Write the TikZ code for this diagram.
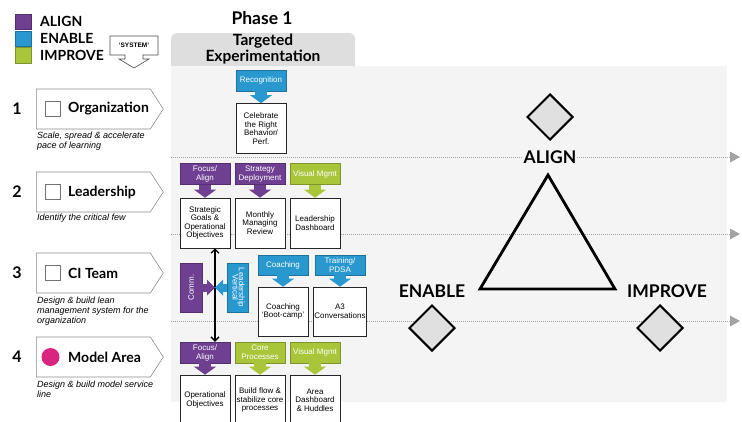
\documentclass[tikz,border=0pt]{standalone}
\usepackage{xcolor}
\usepackage{fontspec}
\setmainfont{Liberation Sans}
\newfontfamily\headfont{Lato}
\usepackage{tikz}
\usetikzlibrary{shapes.geometric, shapes.symbols, arrows.meta}

\definecolor{alignc}{HTML}{6F3F92}
\definecolor{enablec}{HTML}{2898CF}
\definecolor{improvec}{HTML}{A9C53A}
\definecolor{bgc}{HTML}{F4F4F4}
\definecolor{tabc}{HTML}{DEDEDE}
\definecolor{dotc}{HTML}{A3A3A3}
\definecolor{pinkc}{HTML}{D9257F}
\definecolor{pillarc}{HTML}{E0E0E0}

\tikzstyle{legendbox} = [rectangle, minimum size=15.5pt, inner sep=0pt, line width=0.5pt]
\tikzstyle{legendtext} = [anchor=west, inner sep=0pt, font=\headfont\bfseries\fontsize{14}{14}\selectfont]
\tikzstyle{phase} = [align=center, font=\headfont\bfseries\fontsize{17.5}{17.5}\selectfont]
\tikzstyle{tabtext} = [align=center, font=\headfont\bfseries\fontsize{15.5}{16}\selectfont]
\tikzstyle{levelnum} = [font=\headfont\bfseries\fontsize{16}{16}\selectfont]
\tikzstyle{levelbox} = [signal, signal to=east, signal pointer angle=114, minimum width=127pt, minimum height=40pt, inner sep=0pt, draw=black!45, fill=white, line width=0.6pt]
\tikzstyle{checkbox} = [rectangle, minimum size=15pt, inner sep=0pt, draw=black!55, fill=white, line width=0.6pt]
\tikzstyle{leveltext} = [anchor=west, inner sep=0pt, font=\headfont\bfseries\fontsize{14}{14}\selectfont]
\tikzstyle{desc} = [anchor=north west, align=left, inner sep=0pt, font=\itshape\fontsize{9}{9.8}\selectfont]
\tikzstyle{header} = [rectangle, minimum width=50pt, minimum height=21pt, inner sep=1pt, align=center, text=white, line width=0.5pt, font=\fontsize{8}{9}\selectfont]
\tikzstyle{alignhdr} = [header, fill=alignc, draw=alignc!75!black]
\tikzstyle{enablehdr} = [header, fill=enablec, draw=enablec!75!black]
\tikzstyle{improvehdr} = [header, fill=improvec, draw=improvec!75!black]
\tikzstyle{task} = [rectangle, minimum width=50pt, minimum height=50pt, inner sep=1pt, align=center, draw=black!85, fill=white, line width=0.6pt, font=\fontsize{8}{8.6}\selectfont]
\tikzstyle{sidebar} = [rectangle, minimum width=22pt, minimum height=49pt, inner sep=0pt, align=center, text=white, line width=0.5pt, font=\fontsize{8}{8}\selectfont]
\tikzstyle{fatarrow} = [line width=12pt, -{Triangle[line width=0pt, length=8pt, width=22pt]}]
\tikzstyle{sidearrow} = [line width=8pt, -{Triangle[line width=0pt, length=8pt, width=16pt]}]
\tikzstyle{dotline} = [dotc, line width=0.8pt, dash pattern=on 1pt off 1pt, -{Triangle[line width=0pt, length=10pt, width=11pt]}]
\tikzstyle{pillar} = [diamond, minimum size=46pt, inner sep=0pt, draw=black, fill=pillarc, line width=2pt]
\tikzstyle{pillartext} = [inner sep=1pt, font=\headfont\bfseries\fontsize{17.5}{17.5}\selectfont]

\begin{document}
\begin{tikzpicture}[x=1pt, y=-1pt]
	\useasboundingbox (0,0) rectangle (742,421);
	\clip (0,0) rectangle (742,421);

	% Background and phase tab
	\fill [tabc, rounded corners=6pt] (171,33) rectangle (355,74);
	\fill [bgc] (171,66) rectangle (727,402);
	\node (phase) [phase] at (262,18) {Phase 1};
	\node (tab) [tabtext] at (263,49.5) {Targeted\\Experimentation};

	% Dotted level lines
	\coordinate (l1s) at (171,157); \coordinate (l1e) at (740,157);
	\coordinate (l2s) at (171,234); \coordinate (l2e) at (740,234);
	\coordinate (l3s) at (171,321); \coordinate (l3e) at (740,321);
	\draw [dotline] (l1s) -- (l1e);
	\draw [dotline] (l2s) -- (l2e);
	\draw [dotline] (l3s) -- (l3e);

	% Legend
	\node (keya) [legendbox, fill=alignc, draw=alignc!75!black] at (23,21.5) {};
	\node (keye) [legendbox, fill=enablec, draw=enablec!75!black] at (23,38.5) {};
	\node (keyi) [legendbox, fill=improvec, draw=improvec!75!black] at (23,55.3) {};
	\node (keyatext) [legendtext] at (40,21.5) {ALIGN};
	\node (keyetext) [legendtext] at (40,38.5) {ENABLE};
	\node (keyitext) [legendtext] at (40,55.3) {IMPROVE};
	\filldraw [fill=white, draw=black!70, line width=0.6pt] (110,36) -- (158,36) -- (158,55) -- (143,55) -- (143,59) -- (149,59) -- (134,68) -- (119,59) -- (125,59) -- (125,55) -- (110,55) -- cycle;
	\node (system) [font=\bfseries\fontsize{6.5}{6.5}\selectfont, inner sep=0pt] at (134,45.5) {‘SYSTEM’};

	% Levels
	\node (num1) [levelnum] at (17,109) {1};
	\node (num2) [levelnum] at (17,192) {2};
	\node (num3) [levelnum] at (17,273) {3};
	\node (num4) [levelnum] at (17,357) {4};
	\node (lvl1) [levelbox, anchor=west] at (36,109) {};
	\node (lvl2) [levelbox, anchor=west] at (36,192) {};
	\node (lvl3) [levelbox, anchor=west] at (36,273) {};
	\node (lvl4) [levelbox, anchor=west] at (36,357) {};
	\node (chk1) [checkbox] at (52.5,109) {};
	\node (chk2) [checkbox] at (52.5,192) {};
	\node (chk3) [checkbox] at (52.5,273) {};
	\node (chk4) [circle, fill=pinkc, minimum size=18pt, inner sep=0pt] at (50.5,357) {};
	\node (org) [leveltext] at (68,109) {Organization};
	\node (lead) [leveltext] at (68,192) {Leadership};
	\node (ci) [leveltext] at (68,273) {CI Team};
	\node (model) [leveltext] at (68,357) {Model Area};
	\node (desc1) [desc] at (37,132) {Scale, spread \& accelerate\\pace of learning};
	\node (desc2) [desc] at (37,214) {Identify the critical few};
	\node (desc3) [desc] at (37,297) {Design \& build lean\\management system for the\\organization};
	\node (desc4) [desc] at (37,381) {Design \& build model service\\line};

	% Row 1
	\node (rec) [enablehdr] at (261,80.5) {Recognition};
	\node (cel) [task] at (261,128.5) {Celebrate\\the Right\\Behavior/\\Perf.};

	% Row 2
	\node (fa2) [alignhdr] at (205,174) {Focus/\\Align};
	\node (sd2) [alignhdr] at (260,174) {Strategy\\Deployment};
	\node (vm2) [improvehdr] at (315,174) {Visual Mgmt};
	\node (sg) [task] at (205,223) {Strategic\\Goals \&\\Operational\\Objectives};
	\node (mmr) [task] at (260,223) {Monthly\\Managing\\Review};
	\node (ld) [task] at (315,223) {Leadership\\Dashboard};

	% Row 3
	\node (comm) [sidebar, fill=alignc, draw=alignc!75!black] at (191,287.5) {\rotatebox{90}{Comm.}};
	\node (lv) [sidebar, minimum width=21pt, fill=enablec, draw=enablec!75!black] at (237.5,287.5) {\rotatebox{-90}{\begin{tabular}{@{}c@{}}Leadership\\[-2pt]Vertical\end{tabular}}};
	\coordinate (hub) at (215,287.5);
	\node (ch3) [enablehdr, minimum height=20pt] at (283,265) {Coaching};
	\node (tr3) [enablehdr, minimum height=20pt] at (340,265) {Training/\\PDSA};
	\node (bc) [task, minimum height=49pt] at (283,311.5) {Coaching\\‘Boot-camp’};
	\node (a3) [task, minimum height=49pt] at (340,311.5) {A3\\Conversations};

	% Row 4
	\node (fa4) [alignhdr] at (205,352.5) {Focus/\\Align};
	\node (cp4) [improvehdr] at (260,352.5) {Core\\Processes};
	\node (vm4) [improvehdr] at (315,352.5) {Visual Mgmt};
	\node (oo) [task] at (205,400) {Operational\\Objectives};
	\node (bf) [task] at (260,400) {Build flow \&\\stabilize core\\processes};
	\node (ad) [task] at (315,400) {Area\\Dashboard\\\& Huddles};

	% Draw the arrows
	\draw [fatarrow, enablec] (rec) -- (cel);
	\draw [fatarrow, alignc] (fa2) -- (sg);
	\draw [fatarrow, alignc] (sd2) -- (mmr);
	\draw [fatarrow, improvec] (vm2) -- (ld);
	\draw [fatarrow, enablec] (ch3) -- (bc);
	\draw [fatarrow, enablec] (tr3) -- (a3);
	\draw [fatarrow, alignc] (fa4) -- (oo);
	\draw [fatarrow, improvec] (cp4) -- (bf);
	\draw [fatarrow, improvec] (vm4) -- (ad);
	\draw [line width=1.3pt, {Straight Barb[length=4pt, width=8pt]}-{Straight Barb[length=4pt, width=8pt]}] (hub |- sg.south) -- (hub |- fa4.north);
	\draw [sidearrow, alignc] (comm.east) -- (hub);
	\draw [sidearrow, enablec] (lv.west) -- (hub);

	% Align / Enable / Improve
	\coordinate (apex) at (548,175);
	\coordinate (baseL) at (480,289);
	\coordinate (baseR) at (615,289);
	\draw [line width=2.8pt, line join=miter] (apex) -- (baseR) -- (baseL) -- cycle;
	\node (dalign) [pillar] at (550,117) {};
	\node (denable) [pillar] at (432,328) {};
	\node (dimprove) [pillar] at (660,328) {};
	\node (talign) [pillartext, fill=bgc] at (550,157) {ALIGN};
	\node (tenable) [pillartext] at (432,291) {ENABLE};
	\node (timprove) [pillartext] at (667,291) {IMPROVE};

\end{tikzpicture}
\end{document}
